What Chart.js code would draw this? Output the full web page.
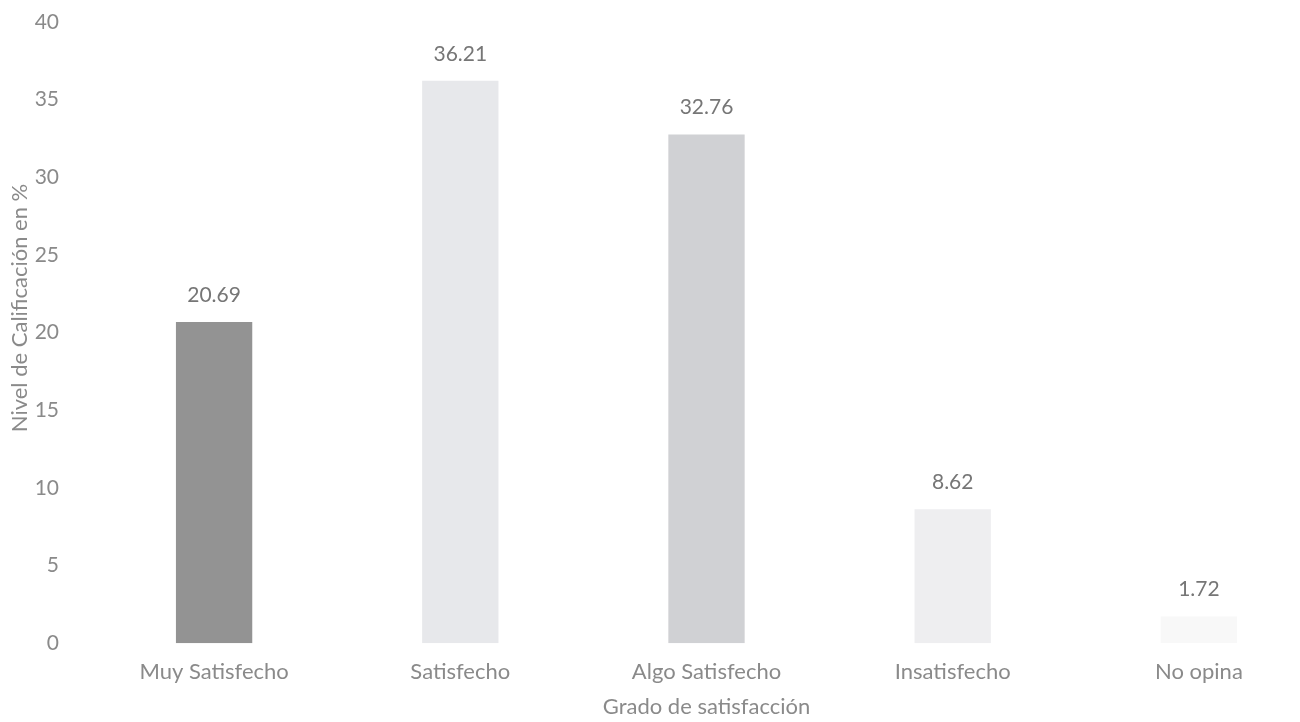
<!DOCTYPE html>
<html>
<head>
<meta charset="utf-8">
<script src="https://cdn.jsdelivr.net/npm/chart.js@4.4.0/dist/chart.umd.min.js"></script>
<style>
  html, body { margin: 0; padding: 0; background: #fff; overflow: hidden; }
  #wrap { width: 1330px; height: 722px; position: relative; }
</style>
</head>
<body>
<div id="wrap"><canvas id="grafico"></canvas></div>
<script>
// DATOS
const categorias = ['Muy Satisfecho', 'Satisfecho', 'Algo Satisfecho', 'Insatisfecho', 'No opina']
const valores = [20.69, 36.21, 32.76, 8.62, 1.72]
const coloresBarra = ['#939393', '#e7e8eb', '#d0d1d4', '#eeeef0', '#f8f8f8']
const tituloY = 'Nivel de Calificación en %'

const fuente = "Lato, sans-serif"
const colorTexto = '#8a8a8a'

// ETIQUETAS ENCIMA DE LAS BARRAS + TITULO DEL EJE Y
const etiquetas = {
    id: 'etiquetas',
    afterDatasetsDraw(chart) {
        const ctx = chart.ctx
        const meta = chart.getDatasetMeta(0)
        ctx.save()
        ctx.font = '21px ' + fuente
        ctx.fillStyle = '#767676'
        ctx.textAlign = 'center'
        ctx.textBaseline = 'middle'
        meta.data.forEach((barra, i) => {
            ctx.fillText(valores[i].toFixed(2), barra.x, barra.y - 27)
        })

        // titulo eje Y (un poco por encima del centro, como el original)
        ctx.translate(20, 308)
        ctx.rotate(-Math.PI / 2)
        ctx.font = '22px ' + fuente
        ctx.fillStyle = colorTexto
        ctx.fillText(tituloY, 0, 0)
        ctx.restore()
    }
}

new Chart(document.getElementById('grafico'), {
    type: 'bar',
    data: {
        labels: categorias,
        datasets: [{
            data: valores,
            backgroundColor: coloresBarra,
            borderWidth: 0,
            barPercentage: 0.31,
            categoryPercentage: 1
        }]
    },
    options: {
        responsive: true,
        maintainAspectRatio: false,
        animation: false,
        layout: { padding: { top: 22, right: 8, left: 0, bottom: 0 } },
        plugins: {
            legend: { display: false },
            tooltip: { enabled: false }
        },
        scales: {
            x: {
                grid: { display: false },
                border: { display: false },
                ticks: { color: colorTexto, font: { family: fuente, size: 22 }, padding: 8 },
                title: {
                    display: true,
                    text: 'Grado de satisfacción',
                    color: colorTexto,
                    font: { family: fuente, size: 22 },
                    padding: { top: 0, bottom: 2 }
                }
            },
            y: {
                min: 0,
                max: 40,
                grid: { display: false },
                border: { display: false },
                ticks: { stepSize: 5, color: colorTexto, font: { family: fuente, size: 21 }, padding: 24 },
                afterFit(scale) {
                    scale.width = 91
                    scale.paddingTop = 0
                    scale.paddingBottom = 0
                }
            }
        }
    },
    plugins: [etiquetas]
})
</script>
</body>
</html>
